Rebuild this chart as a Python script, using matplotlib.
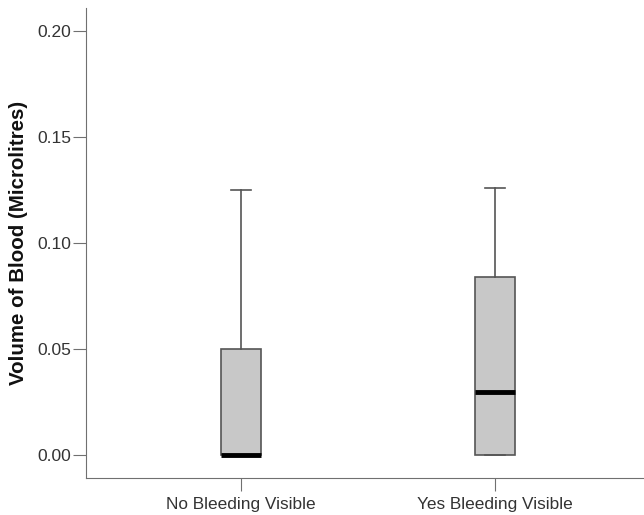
import matplotlib.pyplot as plt

plt.rcParams['font.family'] = ['Liberation Sans', 'DejaVu Sans']

# Data
groups = ["No Bleeding Visible", "Yes Bleeding Visible"]
whisker_low = [0.0, 0.0]
q1 = [0.0, 0.0]
median = [0.0, 0.0297]
q3 = [0.050, 0.084]
whisker_high = [0.125, 0.126]

stats = []
for i, g in enumerate(groups):
    stats.append({"label": g, "whislo": whisker_low[i], "q1": q1[i], "med": median[i],
                  "q3": q3[i], "whishi": whisker_high[i], "fliers": []})

fig = plt.figure(figsize=(6.44, 5.15), dpi=100)
ax = fig.add_axes([0.1335, 0.0718, 0.8665, 0.9127])

edge = "#555555"
ax.bxp(stats, positions=[1, 2], widths=0.16, patch_artist=True, showfliers=False,
       boxprops=dict(facecolor="#c8c8c8", edgecolor=edge, linewidth=1.2),
       whiskerprops=dict(color=edge, linewidth=1.2),
       capprops=dict(color=edge, linewidth=1.2),
       medianprops=dict(color="black", linewidth=3.5, solid_capstyle="butt"),
       capwidths=0.08)

ax.set_xlim(0.39, 2.587)
ax.set_ylim(-0.0108, 0.2108)
ax.set_yticks([0.0, 0.05, 0.10, 0.15, 0.20])
ax.set_yticklabels(["0.00", "0.05", "0.10", "0.15", "0.20"])
ax.set_ylabel("Volume of Blood (Microlitres)", fontsize=14.8, fontweight="bold", labelpad=7,
              color="#111111")

for s in ["top", "right"]:
    ax.spines[s].set_visible(False)
for s in ["left", "bottom"]:
    ax.spines[s].set_color("#707070")
ax.tick_params(axis="both", colors="#707070", labelcolor="#333333", length=9.5)
ax.tick_params(axis="y", labelsize=12.5, pad=1)
ax.tick_params(axis="x", labelsize=12.4, pad=4)

fig.savefig("out.png", dpi=100)
